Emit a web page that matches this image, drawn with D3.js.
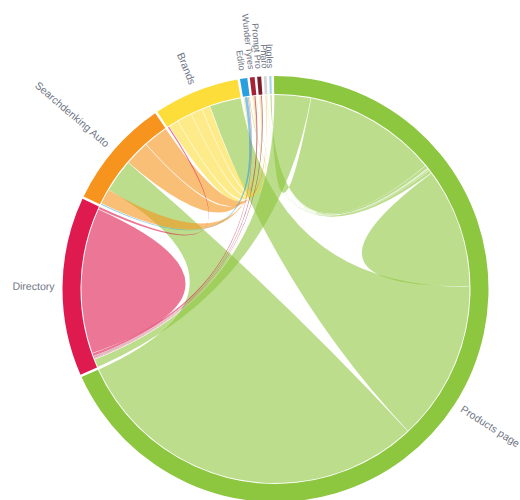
<!DOCTYPE html>
<html><head><meta charset="utf-8">
<script src="https://cdn.jsdelivr.net/npm/d3@7"></script>
<style>body{margin:0;background:#fff;overflow:hidden;} text{font-family:"Liberation Sans",Arial,sans-serif;}</style>
</head><body>
<svg id="chart" width="520" height="500"></svg>
<script>
// ---- data ----
const groupNames = ["Products page","Directory","Searchdenking Auto","Brands","Edito","Wunder Tyres","Prompt Pro","Pharo","Ingles"];
const groupColors = ["#8dc63f","#df1a4e","#f7941d","#fcdd3a","#2a9fe0","#a62236","#7c1c2c","#d6d6d6","#a9d3e6"];
// matrix[i][j]: width of the i–j link measured at group i's arc
const matrix = [
  [36,   11,  109,  48,  1,   0.5, 0.3, 1,   40.2],
  [2.5,  43.8, 0,   0.8, 0.9, 0.3, 0.3, 0.3, 0.1],
  [10,   0,    0,   0,   0.4, 7.5, 4.6, 7.5, 0],
  [9.5,  0.5,  0,   0,   3,   4.5, 3.5, 2.5, 0],
  [0.3,  0.3,  1.0, 0.4, 0,   0,   0,   0,   0],
  [0.2,  0.5,  0.3, 0.3, 0,   0,   0,   0,   0],
  [0.1,  0.4,  0.3, 0.3, 0,   0,   0,   0,   0],
  [0.2,  0.1,  0.3, 0.2, 0,   0,   0,   0,   0],
  [0.5,  0.1,  0,   0,   0,   0,   0,   0,   0]
];
// order of the links along each group's arc (partner indices, clockwise)
const subgroupOrder = [
  [1, 8, 7, 6, 5, 4, 0, 3, 2],
  [0, 8, 7, 6, 5, 4, 1, 3],
  [4, 6, 0, 5, 7],
  [1, 4, 5, 6, 7, 0],
  [3, 2, 1, 0],
  [3, 2, 1, 0],
  [3, 2, 1, 0],
  [3, 2, 1, 0],
  [1, 0]
];

// ---- layout ----
const W = 520, H = 500;
const cx = 275.5, cy = 289;
const outerR = 213, innerR = 195, ribbonR = 194;
const n = groupNames.length;
const padAngle = 0.012;
const totals = matrix.map(r => d3.sum(r));
const angle = d3.scaleLinear().domain([0, d3.sum(totals)]).range([0, 2 * Math.PI - n * padAngle]);

const groups = [];
const ends = {};
let cum = 0;
for (let i = 0; i < n; i++) {
  const off = i * padAngle;
  const g0 = angle(cum) + off;
  for (const j of subgroupOrder[i]) {
    const v = matrix[i][j];
    ends[i + "-" + j] = {index: i, startAngle: angle(cum) + off, endAngle: angle(cum + v) + off, value: v};
    cum += v;
  }
  groups.push({index: i, startAngle: g0, endAngle: angle(cum) + off, value: totals[i]});
}
const chords = [];
for (let i = 0; i < n; i++) {
  for (let j = i; j < n; j++) {
    if (!ends[i + "-" + j]) continue;
    const a = ends[i + "-" + j], b = ends[j + "-" + i];
    chords.push(a.value >= b.value ? {source: a, target: b} : {source: b, target: a});
  }
}
chords.sort((p, q) => (q.source.value + q.target.value) - (p.source.value + p.target.value));

const svg = d3.select("#chart");
const g = svg.append("g").attr("transform", `translate(${cx},${cy}) rotate(-0.4)`);

const ribbon = d3.ribbon().radius(ribbonR).padAngle(0.0025);
g.append("g").selectAll("path").data(chords).join("path")
  .attr("d", ribbon)
  .attr("fill", d => groupColors[d.source.index])
  .attr("fill-opacity", 0.6);

const arc = d3.arc().innerRadius(innerR).outerRadius(outerR);
g.append("g").selectAll("path").data(groups).join("path")
  .attr("d", arc)
  .attr("fill", d => groupColors[d.index]);

g.append("g").selectAll("text").data(groups).join("text")
  .each(d => { d.angle = (d.startAngle + d.endAngle) / 2; })
  .attr("dy", "0.35em")
  .attr("transform", d => `rotate(${d.angle * 180 / Math.PI - 90}) translate(${outerR + 8})${d.angle > Math.PI ? " rotate(180)" : ""}`)
  .attr("text-anchor", d => d.angle > Math.PI ? "end" : "start")
  .attr("font-size", d => d.value < 5 ? 9 : 10.5)
  .attr("fill", "#6f7584")
  .text(d => groupNames[d.index]);
</script>
</body></html>
